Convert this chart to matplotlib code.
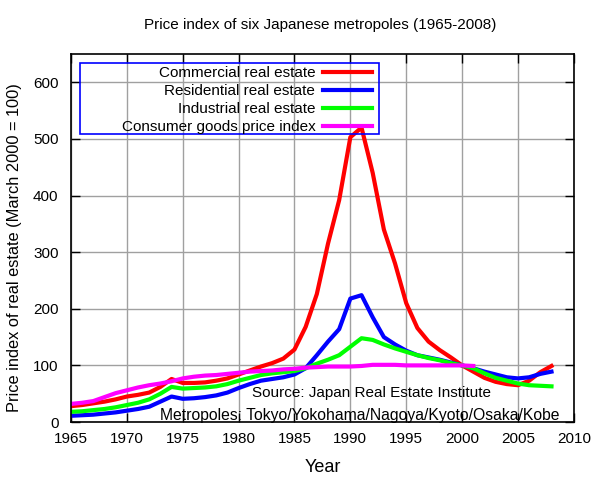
import matplotlib
matplotlib.use("Agg")
import matplotlib.pyplot as plt
from matplotlib.patches import Rectangle

plt.rcParams['font.family'] = ['Liberation Sans', 'DejaVu Sans']

# Price index data, March 2000 = 100
years = list(range(1965, 2009))
commercial = [28, 30, 33, 36, 40, 45, 48, 52, 62, 76,
              69, 69, 70, 73, 77, 84, 91, 98, 104, 112,
              128, 168, 226, 315, 392, 503, 520, 440, 340, 280,
              210, 166, 142, 127, 114, 100, 89, 78, 71, 67,
              65, 73, 88, 99]
residential = [11, 12, 13, 15, 17, 20, 23, 27, 36, 45,
               41, 42, 44, 47, 52, 60, 67, 73, 76, 79,
               84, 95, 118, 142, 164, 218, 224, 185, 150, 137,
               126, 118, 114, 110, 105, 100, 95, 89, 84, 79,
               77, 79, 85, 89]
industrial = [18, 19, 21, 23, 26, 30, 34, 40, 50, 62,
              59, 60, 61, 63, 67, 73, 78, 83, 86, 88,
              90, 95, 103, 110, 118, 133, 148, 145, 137, 130,
              124, 118, 113, 109, 104, 100, 95, 86, 78, 73,
              68, 65, 64, 63]
cpi_years = list(range(1965, 2002))
cpi = [32, 34, 37, 44, 51, 56, 61, 65, 68, 72,
       77, 80, 82, 83, 85, 87, 89, 90, 91, 93,
       94, 96, 97, 98, 98, 98, 99, 101, 101, 101,
       100, 100, 100, 100, 100, 100, 99]

fig = plt.figure(figsize=(5.99, 4.8), dpi=100)
ax = fig.add_axes([0.1185, 0.1208, 0.8395, 0.7667])

lw = 3
ax.plot(years, commercial, color='#ff0000', lw=lw, label='Commercial real estate')
ax.plot(years, residential, color='#0000ff', lw=lw, label='Residential real estate')
ax.plot(years, industrial, color='#00ff00', lw=lw, label='Industrial real estate')
ax.plot(cpi_years, cpi, color='#ff00ff', lw=lw, label='Consumer goods price index')

ax.set_xlim(1965, 2010)
ax.set_ylim(0, 650)
ax.set_xticks(range(1965, 2011, 5))
ax.set_yticks(range(0, 601, 100))
ax.grid(True, color='#a0a0a0', lw=1)
ax.set_axisbelow(True)
ax.tick_params(direction='in', length=6.5, width=1, top=True, right=True,
               labelsize=11, colors='black')
ax.tick_params(axis='x', pad=7.5)
ax.tick_params(axis='y', pad=9)
for s in ax.spines.values():
    s.set_linewidth(1.2)

ax.set_xlabel('Year', fontsize=13)
ax.xaxis.set_label_coords(0.5, -0.1)
ax.set_ylabel('Price index of real estate (March 2000 = 100)', fontsize=11.8)
ax.yaxis.set_label_coords(-0.098, 0.474)
fig.text(0.535, 0.948, 'Price index of six Japanese metropoles (1965-2008)',
         ha='center', va='center', fontsize=11,
         family=['Liberation Sans Narrow', 'Liberation Sans', 'DejaVu Sans'])

# legend: text right aligned, sample lines on the right, blue frame
leg = ax.legend(loc='upper right', bbox_to_anchor=(0.5984, 0.9676), markerfirst=False,
                fontsize=11, frameon=False, borderpad=0, labelspacing=0.27,
                handlelength=3.2, handletextpad=0.5, borderaxespad=0)
ax.add_patch(Rectangle((0.0179, 0.7826), 0.594, 0.1929, transform=ax.transAxes,
                       fill=False, edgecolor='#0000ff', lw=1.2, zorder=5))

ax.text(1981.2, 51, 'Source: Japan Real Estate Institute', fontsize=11,
        ha='left', va='center')
ax.text(1973.0, 12, 'Metropoles: Tokyo/Yokohama/Nagoya/Kyoto/Osaka/Kobe', fontsize=11.3,
        ha='left', va='center')

fig.savefig('out.png', dpi=100)
